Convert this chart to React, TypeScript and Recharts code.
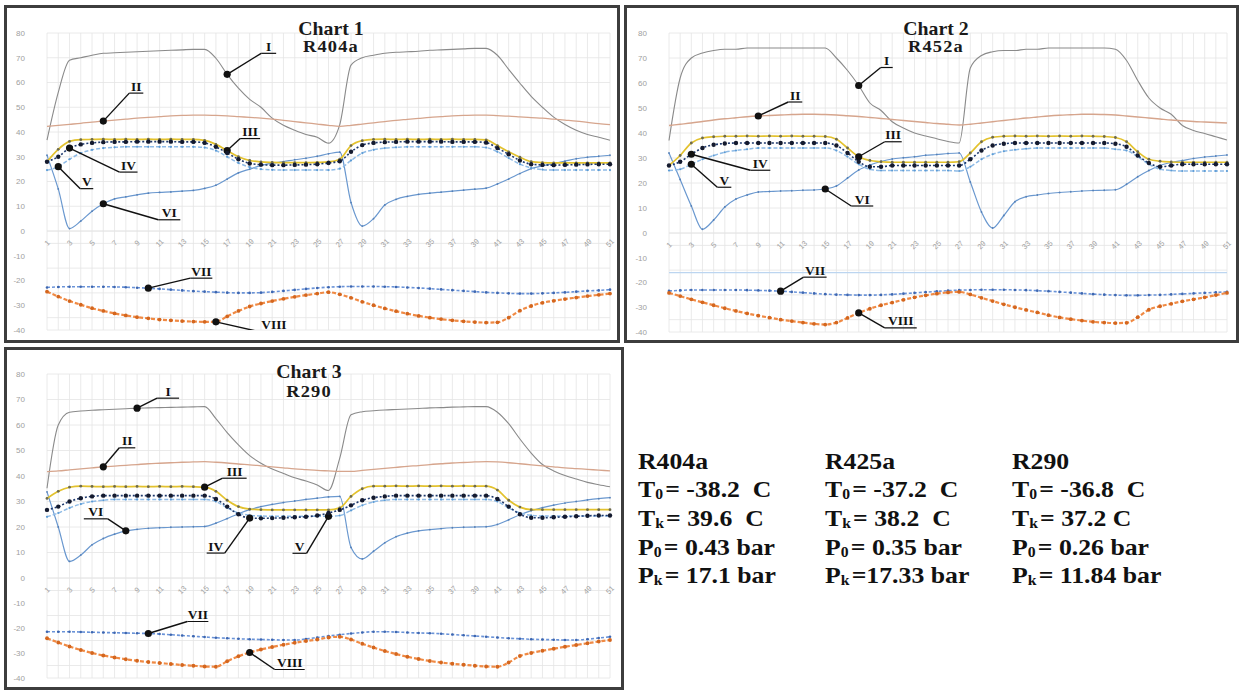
import React from 'react';
import { LineChart, Line, XAxis, YAxis, CartesianGrid, ReferenceLine } from 'recharts';

// ---------- data ----------
const categories = [1, 2, 3, 4, 5, 6, 7, 8, 9, 10, 11, 12, 13, 14, 15, 16, 17, 18, 19, 20, 21, 22, 23, 24, 25, 26, 27, 28, 29, 30, 31, 32, 33, 34, 35, 36, 37, 38, 39, 40, 41, 42, 43, 44, 45, 46, 47, 48, 49, 50, 51];
const upperTicks = [0, 5, 10, 15, 20, 25, 30, 35, 40, 45, 50, 55, 60, 65, 70, 75, 80];
const lowerTicks = [-40, -35, -30, -25, -20, -15, -10, -5, 0];

// Chart 1 — R404a
const c1I = [36.7, 56, 69, 70, 71, 71.8, 72, 72.2, 72.4, 72.6, 72.8, 73, 73.2, 73.4, 73.4, 69.8, 63.3, 57.7, 53.2, 50, 45.6, 42.7, 40.7, 39, 37.9, 35.5, 43, 67, 70, 71, 71.8, 72.2, 72.4, 72.6, 73, 73.2, 73.4, 73.6, 73.8, 73.8, 71, 65.3, 59.7, 54.4, 50, 46, 43, 40.7, 39, 37.9, 36.7];
const c1II = [42.3, 42.7, 43.1, 43.5, 44, 44.4, 44.8, 45.2, 45.6, 45.9, 46.2, 46.5, 46.7, 46.8, 46.8, 46.7, 46.5, 46.2, 45.9, 45.6, 45.2, 44.7, 44.2, 43.7, 43.2, 42.7, 42.3, 42.7, 43.2, 43.7, 44.2, 44.7, 45.1, 45.5, 45.9, 46.2, 46.5, 46.7, 46.8, 46.8, 46.6, 46.4, 46.1, 45.8, 45.6, 45.2, 44.8, 44.4, 43.9, 43.4, 43];
const c1III = [28, 33, 36.2, 36.9, 37, 37.1, 37, 37.1, 37, 37.1, 37, 37.1, 37, 37, 36.6, 35, 32.5, 30, 28.5, 27.9, 27.7, 27.6, 27.6, 27.6, 27.7, 27.9, 29, 34.5, 36.5, 37, 37.1, 37, 37.1, 37, 37.1, 37, 37.1, 37, 37, 36.8, 34.5, 32, 29.8, 28, 27.6, 27.5, 27.5, 27.5, 27.5, 27.5, 27.5];
const c1IV = [28, 30, 33.5, 35, 35.6, 35.9, 36, 36, 36.1, 36.1, 36.1, 36.1, 36, 36, 35.6, 34, 31.5, 29, 27.3, 26.8, 26.6, 26.6, 26.7, 26.8, 27, 27.5, 28.2, 32, 34.7, 35.6, 35.9, 36, 36.1, 36.1, 36.1, 36.1, 36, 36, 36, 35.7, 33.5, 31, 28.5, 27, 26.7, 26.6, 26.7, 26.8, 26.9, 27, 27];
const c1V = [24.6, 26, 29, 31.5, 32.8, 33.5, 33.8, 34, 34, 34, 34, 34, 34, 34, 33.7, 32.5, 30, 27.5, 25.8, 25, 24.7, 24.6, 24.6, 24.6, 24.6, 24.6, 25.2, 28.5, 31.5, 32.8, 33.5, 33.8, 34, 34, 34, 34, 34, 34, 34, 33.7, 32, 29.5, 27, 25.5, 24.8, 24.6, 24.6, 24.6, 24.6, 24.6, 24.6];
const c1VI = [30.6, 17, 1, 4, 8, 11, 13, 13.8, 14.6, 15.3, 15.6, 15.8, 16.1, 16.4, 17.2, 18.5, 21, 23.5, 25, 26.4, 27.4, 28, 28.8, 29.4, 30.2, 31.2, 31.9, 11.5, 2, 5, 10.5, 12.8, 14, 14.8, 15.3, 15.7, 16.1, 16.5, 16.9, 17.3, 19, 21, 23.2, 25.2, 26.3, 27.3, 28.2, 29.2, 29.8, 30.2, 30.6];
const c1VII = [-22.8, -22.6, -22.5, -22.5, -22.5, -22.5, -22.6, -22.7, -22.9, -23.1, -23.4, -23.7, -24, -24.3, -24.5, -24.7, -24.9, -25, -25, -24.9, -24.6, -24.2, -23.8, -23.4, -23, -22.7, -22.5, -22.4, -22.4, -22.4, -22.5, -22.6, -22.8, -23, -23.3, -23.6, -23.9, -24.2, -24.5, -24.8, -25, -25.2, -25.3, -25.3, -25.2, -25, -24.8, -24.5, -24.2, -24, -23.7];
const c1VIII = [-24.5, -26.5, -28.3, -29.8, -31.2, -32.3, -33.3, -34.1, -34.8, -35.3, -35.8, -36.1, -36.4, -36.6, -36.7, -36.7, -34.5, -32.3, -30.5, -29.3, -28.3, -27.4, -26.6, -25.9, -25.3, -24.7, -25.6, -27, -28.6, -30, -31.3, -32.4, -33.4, -34.3, -35, -35.6, -36.1, -36.5, -36.8, -37, -36.9, -35, -32.2, -30.3, -29, -28.2, -27.5, -26.9, -26.3, -25.8, -25.3];

// Chart 2 — R452a
const c2I = [37, 62, 70, 72, 73, 73.5, 73.5, 74, 74, 74, 74, 74, 74, 74, 74, 70, 65, 59, 52, 49, 44.5, 42, 40, 38.8, 37.7, 36.6, 36, 66, 71, 72.5, 73, 73, 73.5, 73.5, 74, 74, 74, 74, 74, 74, 73.5, 69, 61, 54, 50, 47.5, 43, 41, 39.8, 38.5, 37.2];
const c2II = [43, 43.5, 44, 44.6, 45.2, 45.7, 46.1, 46.5, 46.8, 47, 47.2, 47.4, 47.5, 47.5, 47.4, 47.2, 46.9, 46.6, 46.2, 45.8, 45.4, 45, 44.6, 44.2, 43.8, 43.5, 43.2, 43.5, 44, 44.5, 45, 45.5, 46, 46.4, 46.8, 47.1, 47.3, 47.5, 47.5, 47.4, 47.2, 46.8, 46.4, 46, 45.6, 45.2, 44.9, 44.6, 44.4, 44.2, 44];
const c2III = [27, 31, 36, 38, 38.5, 38.7, 38.7, 38.8, 38.7, 38.8, 38.7, 38.8, 38.7, 38.7, 38.6, 37.5, 34, 30.5, 29, 28.5, 28.3, 28.3, 28.3, 28.3, 28.3, 28.3, 28.5, 32, 36.5, 38.3, 38.7, 38.8, 38.7, 38.8, 38.7, 38.8, 38.7, 38.8, 38.7, 38.6, 38.2, 36.5, 32.5, 29.5, 28.7, 28.4, 28.3, 28.3, 28.3, 28.3, 28.3];
const c2IV = [27, 28.5, 31.5, 34, 35.3, 35.8, 36, 36, 36, 36, 36, 36, 36, 36, 36, 35, 32, 28.5, 26.5, 26.5, 27, 27, 27, 27, 27, 27, 27, 29.5, 33, 35, 35.7, 36, 36, 36, 36, 36, 36, 36, 36, 36, 35.7, 34.5, 31, 28, 26.5, 27, 27.5, 27.5, 27.5, 27.5, 27.5];
const c2V = [25, 25.5, 27.5, 29.5, 31, 32.3, 33, 33.5, 34, 34, 34, 34, 34, 34, 34, 33, 30.5, 27.5, 25.5, 25, 25, 25, 25, 25, 25, 25, 24.8, 26.5, 29.5, 31.5, 32.7, 33.3, 33.7, 34, 34, 34, 34, 34, 34, 34, 33.5, 33, 30.5, 27.5, 25.5, 25, 24.8, 24.8, 24.8, 24.8, 24.8];
const c2VI = [32, 21.4, 10.8, 1.5, 5.2, 10.4, 13.6, 15.2, 16.4, 16.6, 16.8, 16.9, 17.1, 17.2, 17.6, 18.8, 22, 25.2, 27.2, 28.6, 29.6, 30.1, 30.5, 31.1, 31.4, 31.8, 32, 20.4, 8.4, 2, 7, 12.5, 14.5, 15.2, 15.8, 16.2, 16.5, 16.8, 17, 17.1, 17.3, 19.5, 22.5, 25, 27, 28.2, 29, 29.8, 30.4, 30.8, 31.2];
const c2VII = [-23.4, -23.2, -23, -23, -23, -23, -23, -23.1, -23.2, -23.3, -23.5, -23.8, -24.1, -24.4, -24.7, -24.9, -25, -25.1, -25.1, -25, -24.8, -24.5, -24.2, -23.9, -23.6, -23.3, -23.1, -23, -22.9, -22.9, -22.9, -23, -23.1, -23.3, -23.5, -23.8, -24.1, -24.4, -24.7, -24.9, -25.1, -25.2, -25.2, -25.1, -25, -24.8, -24.6, -24.4, -24.2, -24, -23.8];
const c2VIII = [-24.2, -25.5, -26.8, -28, -29.2, -30.4, -31.5, -32.5, -33.4, -34.2, -35, -35.6, -36.2, -36.7, -37, -36.2, -34.3, -32.3, -30.6, -29.2, -28.1, -27, -26, -25.2, -24.5, -24, -23.8, -24.8, -26.2, -27.5, -28.8, -30, -31.1, -32.1, -33.2, -34.1, -34.8, -35.4, -35.9, -36.2, -36.4, -36.3, -34, -31, -29.6, -28.6, -27.6, -26.8, -26, -25.1, -24.2];

// Chart 3 — R290
const c3I = [35.2, 60, 65, 65.5, 65.8, 66, 66.2, 66.4, 66.6, 66.7, 66.8, 66.9, 67, 67.1, 67.2, 62.5, 57, 52.2, 48, 45, 42.7, 41, 39.3, 38, 36.5, 34.3, 47, 64, 65.2, 65.6, 65.9, 66.1, 66.3, 66.5, 66.7, 66.8, 67, 67.1, 67.2, 67.2, 65, 60.5, 54.5, 49, 44.5, 42, 40.2, 38.8, 37.5, 36.6, 35.8];
const c3II = [41.7, 42, 42.4, 42.8, 43.2, 43.6, 43.9, 44.2, 44.5, 44.8, 45, 45.2, 45.4, 45.5, 45.6, 45.4, 45.1, 44.7, 44.4, 44, 43.6, 43.2, 42.8, 42.5, 42.2, 42, 41.8, 41.8, 42.2, 42.6, 43, 43.4, 43.8, 44.1, 44.5, 44.8, 45.1, 45.3, 45.5, 45.6, 45.5, 45.2, 44.8, 44.4, 44, 43.6, 43.2, 42.9, 42.6, 42.3, 42];
const c3III = [31.2, 34, 35.6, 36, 35.9, 35.8, 35.9, 35.8, 35.9, 35.8, 35.9, 35.8, 35.9, 35.8, 35.6, 34, 30.5, 28, 27, 26.8, 26.7, 26.7, 26.7, 26.7, 26.7, 26.7, 27.5, 32, 35, 36, 36, 36.1, 36, 36.1, 36, 36.1, 36, 36.1, 36, 36, 34.5, 30.5, 27.8, 26.8, 26.8, 26.8, 26.8, 26.8, 26.8, 26.8, 26.8];
const c3IV = [26.7, 28, 30, 31.3, 32, 32.3, 32.3, 32.3, 32.3, 32.3, 32.3, 32.3, 32.3, 32.3, 32.3, 31, 28, 25, 23.5, 23.4, 23.5, 23.6, 23.8, 24, 24.5, 25.5, 26.7, 28.5, 30.5, 31.5, 32, 32.3, 32.3, 32.3, 32.3, 32.3, 32.3, 32.3, 32.3, 32.3, 31, 28, 25, 23.6, 23.6, 23.8, 24, 24.2, 24.4, 24.5, 24.5];
const c3V = [24, 25.5, 27.5, 29, 30, 30.5, 30.8, 30.8, 30.8, 30.8, 30.8, 30.8, 30.8, 30.8, 30.8, 30, 27.5, 25.5, 24.6, 24.3, 24.2, 24.2, 24.2, 24.2, 24.2, 24.2, 24.5, 26.5, 28.5, 29.8, 30.5, 30.8, 30.8, 30.8, 30.8, 30.8, 30.8, 30.8, 30.8, 30.8, 30, 27.5, 25.5, 24.6, 24.3, 24.3, 24.3, 24.3, 24.3, 24.3, 24.3];
const c3VI = [33.8, 20, 6.5, 9, 13, 15.5, 17.2, 18.5, 19.1, 19.5, 19.7, 19.9, 20, 20.1, 20.2, 21.5, 23.3, 25.2, 26.8, 28, 28.9, 29.6, 30.2, 30.8, 31.3, 31.8, 32, 12, 7.5, 10.5, 13.8, 16.2, 17.6, 18.5, 19, 19.4, 19.7, 19.9, 20, 20.1, 21, 22.8, 24.8, 26.4, 27.6, 28.6, 29.4, 30, 30.6, 31.1, 31.5];
const c3VII = [-21.5, -21.5, -21.5, -21.6, -21.7, -21.8, -21.9, -22, -22.1, -22.2, -22.4, -22.7, -23, -23.3, -23.6, -23.9, -24.1, -24.3, -24.5, -24.6, -24.7, -24.8, -24.8, -24.4, -23.8, -23.2, -22.7, -22.2, -21.8, -21.5, -21.5, -21.6, -21.8, -22, -22.1, -22.3, -22.6, -22.9, -23.2, -23.5, -23.8, -24.1, -24.3, -24.5, -24.6, -24.7, -24.8, -24.8, -24.5, -24, -23.5];
const c3VIII = [-24.1, -25.8, -27.4, -28.8, -30, -31, -31.8, -32.5, -33.1, -33.6, -34, -34.4, -34.8, -35.1, -35.4, -35.5, -33.3, -31.3, -29.8, -28.6, -27.6, -26.7, -25.9, -25.2, -24.6, -23.8, -23.5, -24.6, -26.3, -27.8, -29.2, -30.4, -31.5, -32.4, -33.2, -33.8, -34.3, -34.7, -35.1, -35.4, -35.5, -33.8, -31.2, -30, -29.1, -28.3, -27.5, -26.8, -26.1, -25.4, -24.8];

const chart2AccentLevel = -16;

// ---------- styles ----------
const BW = 3;
const XH = 22;
const SERIF = "'Liberation Serif', 'Times New Roman', serif";

type Marker = { r: number; fill: string } | null;
type SStyle = { stroke: string; width: number; dash?: string; marker: Marker };
const sStyle: Record<string, SStyle> = {
  I: { stroke: '#8a8a8a', width: 1.1, marker: null },
  II: { stroke: '#d6a58d', width: 1.3, marker: null },
  III: { stroke: '#e3c22e', width: 1.7, marker: { r: 1.4, fill: '#6e6b4c' } },
  IV: { stroke: '#1f3a6e', width: 1.6, dash: '2 2', marker: { r: 2.2, fill: '#141a2e' } },
  V: { stroke: '#8fbbe6', width: 1.5, dash: '4 2', marker: { r: 1.1, fill: '#5b9bd5' } },
  VI: { stroke: '#6a98cf', width: 1.2, marker: { r: 0.9, fill: '#5580b8' } },
  VII: { stroke: '#6a93d8', width: 1.6, dash: '3 2', marker: { r: 1.3, fill: '#3d66b0' } },
  VIII: { stroke: '#f08a44', width: 2.2, dash: '4 2', marker: { r: 1.9, fill: '#d4661e' } },
};

type Anno = { idx: number; dx: number; dy: number; len: number; text: string };

type PanelCfg = {
  box: { x: number; y: number; w: number; h: number };
  plotLeft: number; plotRight: number; y80: number; y0: number; yMin: number;
  series: Record<string, number[]>;
  annos: Record<string, Anno>;
  accent?: number;
};

function buildRows(s: Record<string, number[]>) {
  return categories.map((c, i) => {
    const r: any = { t: c };
    Object.keys(s).forEach((k) => { r[k] = s[k][i]; });
    return r;
  });
}

const panels: PanelCfg[] = [
  {
    box: { x: 4, y: 5, w: 616, h: 338 },
    plotLeft: 47, plotRight: 610, y80: 33, y0: 231, yMin: 330,
    series: { I: c1I, II: c1II, III: c1III, IV: c1IV, V: c1V, VI: c1VI, VII: c1VII, VIII: c1VIII },
    annos: {
      I: { idx: 16, dx: 34, dy: -21, len: 15, text: 'I' },
      II: { idx: 5, dx: 26, dy: -28, len: 14, text: 'II' },
      III: { idx: 16, dx: 13, dy: -12, len: 20, text: 'III' },
      IV: { idx: 2, dx: 50, dy: 24, len: 18, text: 'IV' },
      V: { idx: 1, dx: 22, dy: 22, len: 13, text: 'V' },
      VI: { idx: 5, dx: 55, dy: 16, len: 22, text: 'VI' },
      VII: { idx: 9, dx: 42, dy: -10, len: 22, text: 'VII' },
      VIII: { idx: 15, dx: 44, dy: 10, len: 28, text: 'VIII' },
    },
  },
  {
    box: { x: 624, y: 5, w: 615, h: 338 },
    plotLeft: 669, plotRight: 1227, y80: 33, y0: 233, yMin: 332,
    series: { I: c2I, II: c2II, III: c2III, IV: c2IV, V: c2V, VI: c2VI, VII: c2VII, VIII: c2VIII },
    annos: {
      I: { idx: 17, dx: 22, dy: -18, len: 12, text: 'I' },
      II: { idx: 8, dx: 30, dy: -14, len: 14, text: 'II' },
      III: { idx: 17, dx: 26, dy: -15, len: 17, text: 'III' },
      IV: { idx: 2, dx: 59, dy: 16, len: 20, text: 'IV' },
      V: { idx: 2, dx: 26, dy: 23, len: 14, text: 'V' },
      VI: { idx: 14, dx: 26, dy: 17, len: 22, text: 'VI' },
      VII: { idx: 10, dx: 23, dy: -14, len: 23, text: 'VII' },
      VIII: { idx: 17, dx: 26, dy: 15, len: 32, text: 'VIII' },
    },
    accent: chart2AccentLevel,
  },
  {
    box: { x: 4, y: 347, w: 620, h: 343 },
    plotLeft: 47, plotRight: 610, y80: 374, y0: 578, yMin: 678,
    series: { I: c3I, II: c3II, III: c3III, IV: c3IV, V: c3V, VI: c3VI, VII: c3VII, VIII: c3VIII },
    annos: {
      I: { idx: 8, dx: 20, dy: -10, len: 22, text: 'I' },
      II: { idx: 5, dx: 16, dy: -19, len: 16, text: 'II' },
      III: { idx: 14, dx: 18, dy: -9, len: 24, text: 'III' },
      IV: { idx: 18, dx: -25, dy: 35, len: -18, text: 'IV' },
      V: { idx: 25, dx: -22, dy: 37, len: -14, text: 'V' },
      VI: { idx: 7, dx: -18, dy: -12, len: -24, text: 'VI' },
      VII: { idx: 9, dx: 39, dy: -12, len: 21, text: 'VII' },
      VIII: { idx: 18, dx: 25, dy: 17, len: 30, text: 'VIII' },
    },
  },
];

// ---------- pieces ----------
const Annotation = ({ cx, cy, a }: { cx: number; cy: number; a: Anno }) => {
  const ex = cx + a.dx;
  const ey = cy + a.dy;
  const ux = ex + a.len;
  const tx = (ex + ux) / 2;
  return (
    <g>
      <line x1={cx} y1={cy} x2={ex} y2={ey} stroke="#111" strokeWidth={1.4} />
      <line x1={ex} y1={ey} x2={ux} y2={ey} stroke="#111" strokeWidth={1.2} />
      <circle cx={cx} cy={cy} r={3.6} fill="#111" />
      <g transform={`translate(${tx} ${ey - 2.5}) scale(1.12 1)`}>
        <text x={0} y={0} textAnchor="middle" fontFamily={SERIF} fontWeight="bold" fontSize={12} fill="#111">
          {a.text}
        </text>
      </g>
    </g>
  );
};

function makeDot(marker: Marker, anno: Anno | undefined) {
  return (p: any) => {
    const { cx, cy, index } = p;
    const k = `d${index}`;
    if (cx == null || cy == null) return <g key={k} />;
    const show = anno && anno.idx === index;
    return (
      <g key={k}>
        {marker && <circle cx={cx} cy={cy} r={marker.r} fill={marker.fill} />}
        {show && <Annotation cx={cx} cy={cy} a={anno as Anno} />}
      </g>
    );
  };
}

const XTick = (props: any) => {
  const { x, y, payload, index } = props;
  if (index % 2 !== 0) return <g />;
  const ty = y + 12;
  return (
    <text x={x} y={ty} dy="0.35em" transform={`rotate(-45 ${x} ${ty})`} textAnchor="middle"
      fontSize={7.5} fill="#a2a2a2" fontFamily="'Liberation Sans', sans-serif">
      {payload.value}
    </text>
  );
};

const yTickStyle = { fontSize: 8, fill: '#a0a0a0', fontFamily: "'Liberation Sans', sans-serif" };

function renderLine(key: string, anno: Anno | undefined) {
  const st = sStyle[key];
  return (
    <Line key={key} type="monotone" dataKey={key} stroke={st.stroke} strokeWidth={st.width}
      strokeDasharray={st.dash} dot={makeDot(st.marker, anno)} activeDot={false}
      isAnimationActive={false} />
  );
}

function Panel({ cfg }: { cfg: PanelCfg }) {
  const { box, plotLeft, plotRight, y80, y0, yMin, series, annos, accent } = cfg;
  const rows = buildRows(series);
  const cl = box.x + BW;
  const ct = box.y + BW;
  const cr = box.x + box.w - BW;
  const cb = box.y + box.h - BW;
  const w = cr - cl;
  const yW = plotLeft - cl;
  const mr = cr - plotRight;
  const upperH = y0 + XH - ct;
  const lowerTop = y0 - 10;
  const lowerH = cb - lowerTop;
  return (
    <>
      <div style={{ position: 'absolute', left: box.x, top: box.y, width: box.w, height: box.h,
        border: `${BW}px solid #3d3d3d`, boxSizing: 'border-box', background: '#fff' }} />
      <div style={{ position: 'absolute', left: cl, top: lowerTop }}>
        <LineChart width={w} height={lowerH} data={rows} margin={{ top: 10, right: mr, bottom: cb - yMin, left: 0 }}>
          <CartesianGrid stroke="#e4e4e4" strokeWidth={0.8} />
          <XAxis dataKey="t" type="category" scale="point" padding={{ left: 0, right: 0 }} interval={0} hide />
          <YAxis type="number" domain={[-40, 0]} ticks={lowerTicks} width={yW} allowDataOverflow
            tickFormatter={(v: number) => (v !== 0 && v % 10 === 0 ? String(v) : '')}
            tick={yTickStyle} tickLine={false} axisLine={false} tickSize={0} tickMargin={22} />
          {accent !== undefined && <ReferenceLine y={accent} stroke="#bcd5f0" strokeWidth={1.2} />}
          {renderLine('VII', annos.VII)}
          {renderLine('VIII', annos.VIII)}
        </LineChart>
      </div>
      <div style={{ position: 'absolute', left: cl, top: ct }}>
        <LineChart width={w} height={upperH} data={rows} margin={{ top: y80 - ct, right: mr, bottom: 0, left: 0 }}>
          <CartesianGrid stroke="#e4e4e4" strokeWidth={0.8} />
          <XAxis dataKey="t" type="category" scale="point" padding={{ left: 0, right: 0 }} interval={0}
            height={XH} tick={XTick} tickLine={false} axisLine={false} tickSize={0} tickMargin={0} />
          <YAxis type="number" domain={[0, 80]} ticks={upperTicks} width={yW}
            tickFormatter={(v: number) => (v % 10 === 0 ? String(v) : '')}
            tick={yTickStyle} tickLine={false} axisLine={false} tickSize={0} tickMargin={22} />
          {renderLine('I', annos.I)}
          {renderLine('II', annos.II)}
          {renderLine('VI', annos.VI)}
          {renderLine('V', annos.V)}
          {renderLine('III', annos.III)}
          {renderLine('IV', annos.IV)}
        </LineChart>
      </div>
    </>
  );
}

// ---------- text ----------
const titles = [
  { x: 331, y1: 35, y2: 52, t1: 'Chart 1', t2: 'R404a' },
  { x: 936, y1: 35, y2: 52, t1: 'Chart 2', t2: 'R452a' },
  { x: 309, y1: 378, y2: 397, t1: 'Chart 3', t2: 'R290' },
];

const infoCols = [
  { x: 638, name: 'R404a', t0: '= -38.2  C', tk: '= 39.6  C', p0: '= 0.43 bar', pk: '= 17.1 bar' },
  { x: 825, name: 'R425a', t0: '= -37.2  C', tk: '= 38.2  C', p0: '= 0.35 bar', pk: '=17.33 bar' },
  { x: 1012, name: 'R290', t0: '= -36.8  C', tk: '= 37.2 C', p0: '= 0.26 bar', pk: '= 11.84 bar' },
];
const infoRows = [469, 497, 526, 555, 583];

const Sub = ({ main, sub, rest }: { main: string; sub: string; rest: string }) => (
  <>
    {main}
    <tspan fontSize={14} dy={2}>{sub}</tspan>
    <tspan dy={-2} dx={2}>{rest}</tspan>
  </>
);

function Overlay() {
  return (
    <svg width={1241} height={690} style={{ position: 'absolute', left: 0, top: 0, pointerEvents: 'none' }}>
      {titles.map((t) => (
        <g key={t.t1} fontFamily={SERIF} fontWeight="bold" fill="#1a1a1a" textAnchor="middle">
          <g transform={`translate(${t.x} ${t.y1}) scale(1.1 1)`}>
            <text x={0} y={0} fontSize={18}>{t.t1}</text>
          </g>
          <g transform={`translate(${t.x} ${t.y2}) scale(1.15 1)`}>
            <text x={0} y={0} fontSize={16} letterSpacing={1}>{t.t2}</text>
          </g>
        </g>
      ))}
      {infoCols.map((c) => (
        <g key={c.name} transform={`translate(${c.x} 0) scale(1.12 1)`} fontFamily={SERIF} fontWeight="bold"
          fontSize={23} fill="#111" style={{ whiteSpace: 'pre' }}>
          <text x={0} y={infoRows[0]}>{c.name}</text>
          <text x={0} y={infoRows[1]} xmlSpace="preserve"><Sub main="T" sub="0" rest={c.t0} /></text>
          <text x={0} y={infoRows[2]} xmlSpace="preserve"><Sub main="T" sub="k" rest={c.tk} /></text>
          <text x={0} y={infoRows[3]} xmlSpace="preserve"><Sub main="P" sub="0" rest={c.p0} /></text>
          <text x={0} y={infoRows[4]} xmlSpace="preserve"><Sub main="P" sub="k" rest={c.pk} /></text>
        </g>
      ))}
    </svg>
  );
}

export default function App() {
  return (
    <div style={{ position: 'absolute', left: 0, top: 0, width: 1241, height: 690, background: '#fff', overflow: 'hidden' }}>
      {panels.map((p, i) => <Panel key={i} cfg={p} />)}
      <Overlay />
    </div>
  );
}
